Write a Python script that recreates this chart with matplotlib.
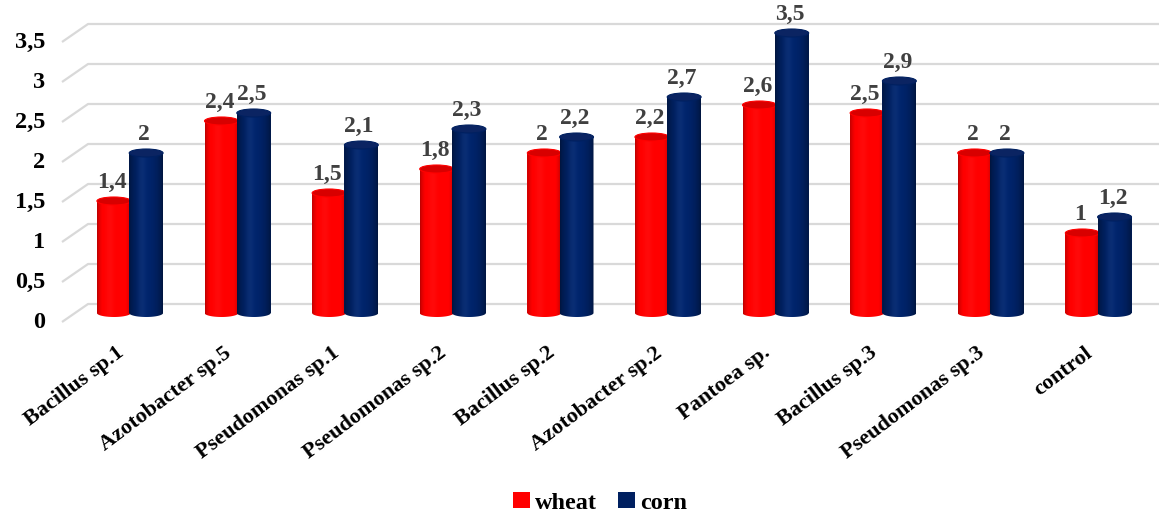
import numpy as np
import matplotlib
matplotlib.use('Agg')
import matplotlib.pyplot as plt
from matplotlib.patches import Ellipse, PathPatch
from matplotlib.path import Path
from matplotlib.transforms import ScaledTranslation
from matplotlib.ticker import FuncFormatter

categories = ["Bacillus sp.1", "Azotobacter sp.5", "Pseudomonas sp.1", "Pseudomonas sp.2",
              "Bacillus sp.2", "Azotobacter sp.2", "Pantoea sp.", "Bacillus sp.3",
              "Pseudomonas sp.3", "control"]
wheat = [1.4, 2.4, 1.5, 1.8, 2.0, 2.2, 2.6, 2.5, 2.0, 1.0]
corn = [2.0, 2.5, 2.1, 2.3, 2.2, 2.7, 3.5, 2.9, 2.0, 1.2]
series_names = ["wheat", "corn"]
yticks = [0, 0.5, 1, 1.5, 2, 2.5, 3, 3.5]

plt.rcParams['font.family'] = ['Liberation Serif', 'DejaVu Serif']
plt.rcParams['font.weight'] = 'bold'


def fmt(v):
    s = ('%g' % v)
    return s.replace('.', ',')


W, H = 1159, 516
fig = plt.figure(figsize=(W / 100, H / 100), dpi=100)
ax = fig.add_axes([62 / W, (H - 330) / H, (W - 62) / W, 325 / H])
XMIN, XMAX = -0.632, 9.563
ax.set_xlim(XMIN, XMAX)
ax.set_ylim(-0.2125, 3.85)
for s in ax.spines.values():
    s.set_visible(False)

# 3D-like gridlines (back wall + left side wall)
d = 0.1125
x_back = -0.39
for v in yticks:
    ax.plot([XMIN, x_back, XMAX], [v - d, v + d, v + d], color='#D9D9D9', lw=1.6,
            zorder=0, solid_capstyle='butt', clip_on=False)

x = np.arange(len(categories))
width = 0.315
offs = [-0.15, 0.15]
colors = ['#FF0000', '#002060']
top_colors = ['#D80000', '#0B2462']
eh = 0.05  # half height of the cylinder ellipses (data units)


def gradient(base, lo, hi):
    t = np.linspace(0, 1, 80)
    prof = lo + hi * np.sin(np.pi * np.clip(t, 0, 1)) ** 0.6
    rgb = np.array(matplotlib.colors.to_rgb(base))
    img = np.clip(rgb[None, :] * prof[:, None] + 0.04 * np.exp(-((t - 0.38) / 0.12) ** 2)[:, None], 0, 1)
    return img[None, :, :]


handles = []
for si, (vals, off, col, tcol) in enumerate(zip([wheat, corn], offs, colors, top_colors)):
    z = 2 + si
    bars = ax.bar(x + off, vals, width, color=col, zorder=z, linewidth=0)
    handles.append(bars)
    grad = gradient(col, 0.72, 0.45) if si == 0 else gradient(col, 0.62, 0.5)
    for rect, v in zip(bars.patches, vals):
        x0 = rect.get_x()
        x1 = x0 + rect.get_width()
        xc = (x0 + x1) / 2
        th = np.linspace(np.pi, 2 * np.pi, 40)
        verts = list(zip(xc + (width / 2) * np.cos(th), eh * np.sin(th)))
        verts += [(x1, v), (x0, v), (x0, 0)]
        codes = [Path.MOVETO] + [Path.LINETO] * (len(verts) - 2) + [Path.CLOSEPOLY]
        clip = PathPatch(Path(verts, codes), transform=ax.transData, fc='none', ec='none')
        ax.add_patch(clip)
        im = ax.imshow(grad, extent=[x0, x1, -eh, v], aspect='auto',
                       interpolation='bilinear', zorder=z + 0.1)
        im.set_clip_path(clip)
        ax.add_patch(Ellipse((xc, v), width, 2 * eh, facecolor=tcol,
                             edgecolor=col, lw=0.8, zorder=z + 0.2))
        ax.text(xc - 0.02, v + 0.23, fmt(v), ha='center', va='center', color='#404040',
                fontsize=17, fontweight='bold', zorder=6)

ax.set_xlim(XMIN, XMAX)
ax.set_ylim(-0.2125, 3.85)

# y ticks
ax.set_yticks(yticks)
ax.yaxis.set_major_formatter(FuncFormatter(lambda v, p: fmt(v)))
ax.tick_params(axis='y', length=0, pad=12, labelsize=17.5)
for lab in ax.get_yticklabels():
    lab.set_transform(lab.get_transform() + ScaledTranslation(0, -7 / 100, fig.dpi_scale_trans))

# x ticks
ax.set_xticks(x)
ax.set_xticklabels(categories, rotation=37, ha='right', va='center', rotation_mode='anchor')
ax.tick_params(axis='x', length=0, pad=15, labelsize=16)
for lab in ax.get_xticklabels():
    lab.set_transform(lab.get_transform() + ScaledTranslation(-8 / 100, 0, fig.dpi_scale_trans))

fig.legend([handles[0], handles[1]], series_names, loc='center',
           bbox_to_anchor=(600 / W, 1 - 503 / H), ncol=2, frameon=False, fontsize=17.5,
           handlelength=0.7, handleheight=0.6, handletextpad=0.2, columnspacing=0.9)

fig.savefig('out.png', dpi=100)
